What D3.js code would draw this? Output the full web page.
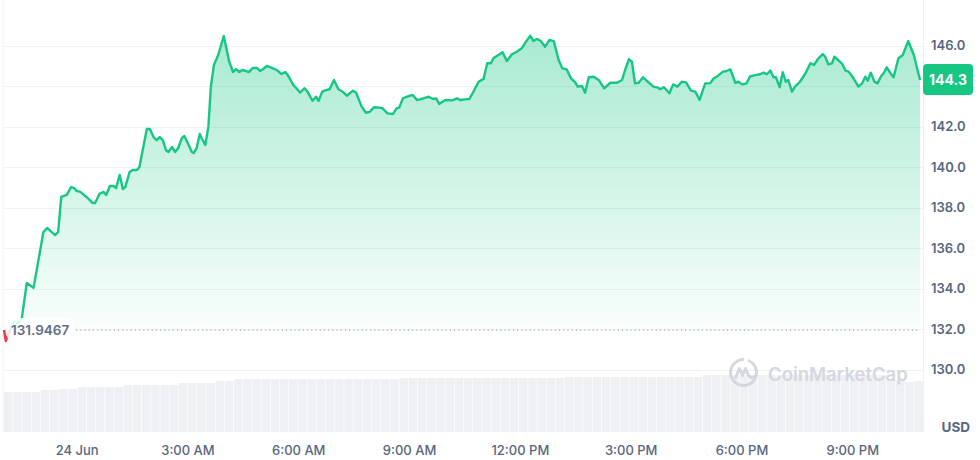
<!DOCTYPE html>
<html>
<head>
<meta charset="utf-8">
<script src="https://cdn.jsdelivr.net/npm/d3@7"></script>
<style>
  html, body { margin: 0; padding: 0; background: #ffffff; }
  svg { display: block; font-family: Inter, "Noto Sans", "DejaVu Sans", sans-serif; }
</style>
</head>
<body>
<svg id="chart" width="980" height="460"></svg>
<script>
// ---------- DATA ----------
// minutes relative to 00:00 on 24 Jun
const minutes = [
  -118,-115,-103,-95,-89,-81,-70,-54,-48,-35,-30,-25,-16,-9,-4,0,6,18,26,30,
  37,44,48,54,60,64,70,75,79,86,91,98,102,114,119,125,130,135,140,145,
  149,155,160,165,171,175,182,187,190,195,200,203,209,214,218,223,230,239,248,254,
  259,264,269,275,280,286,293,298,303,309,317,325,333,339,344,352,358,363,370,375,
  383,389,393,399,405,411,418,425,432,439,449,454,463,470,476,483,492,497,505,514,
  520,524,530,536,546,553,558,563,572,579,584,589,599,610,618,623,631,638,646,653,
  661,667,673,677,685,692,699,707,715,723,730,737,742,748,754,761,768,775,783,789,
  796,803,810,814,821,826,832,840,848,857,867,878,886,891,897,902,907,913,920,926,
  937,944,948,954,963,969,976,983,990,998,1005,1012,1021,1029,1035,1040,1050,1056,1062,1070,
  1075,1081,1088,1094,1102,1110,1116,1121,1127,1132,1136,1142,1147,1152,1156,1162,1167,1175,1184,1192,
  1198,1205,1212,1216,1221,1227,1231,1238,1243,1249,1254,1262,1270,1276,1281,1285,1290,1296,1301,1307,
  1311,1316,1322,1327,1335,1342,1351,1360,1370
];
const prices = [
  131.95,131.41,132.35,132.30,132.54,134.27,134.03,136.79,136.99,136.64,136.79,138.52,138.62,139.01,138.96,138.82,138.77,138.47,138.22,138.22,
  138.67,138.77,138.62,139.06,139.06,138.96,139.61,138.91,139.01,139.75,139.85,139.85,140.00,141.88,141.88,141.48,141.33,141.48,141.33,140.84,
  140.74,140.99,140.74,140.94,141.43,141.53,141.09,140.74,140.69,140.94,141.63,141.43,141.09,141.98,143.95,145.04,145.53,146.47,145.19,144.69,
  144.84,144.69,144.79,144.74,144.69,144.89,144.89,144.74,144.84,144.99,144.89,144.79,144.59,144.69,144.49,144.05,143.85,143.67,143.89,143.72,
  143.27,143.47,143.27,143.72,143.80,143.84,144.30,143.85,143.72,143.52,143.77,143.67,142.98,142.68,142.72,142.95,142.93,142.90,142.65,142.62,
  142.90,142.93,143.39,143.47,143.56,143.31,143.34,143.39,143.47,143.36,143.39,143.11,143.31,143.29,143.39,143.31,143.34,143.36,143.80,144.21,
  144.35,145.12,145.12,145.37,145.53,145.66,145.23,145.57,145.69,145.86,146.19,146.48,146.22,146.32,146.22,145.94,146.27,146.22,145.28,144.87,
  144.82,144.38,144.18,143.97,144.00,143.67,144.43,144.46,144.30,143.89,144.16,144.16,144.30,144.79,145.32,145.20,144.13,144.16,144.43,144.26,
  143.97,143.92,143.84,143.94,143.64,144.08,143.97,144.21,144.18,143.77,143.72,143.31,144.13,144.13,144.38,144.46,144.71,144.74,144.82,144.16,
  144.21,144.08,144.13,144.47,144.54,144.58,144.66,144.58,144.76,144.43,144.43,143.94,144.68,144.21,144.30,143.72,143.97,144.21,144.63,145.12,
  145.04,145.37,145.57,145.45,145.07,145.12,145.45,145.25,145.12,144.76,144.71,144.38,143.97,144.13,144.46,144.26,144.66,144.21,144.13,144.49,
  144.63,144.92,144.63,144.43,145.37,145.53,146.22,145.53,144.30
];
const openPrice = 131.9467;
const lastPrice = 144.3;

// volume (relative units), 15-minute bars across the window
const volumes = [
  40,40,40,40,42,42,43,43,45,45,45,45,45,47,47,47,47,47,47,49,
  49,49,49,51,51,53,53,53,53,53,53,53,53,53,53,53,53,53,53,53,
  53,53,53,54,54,54,54,54,54,54,54,54,54,54,54,54,54,54,54,54,
  54,55,55,55,55,55,55,55,55,55,55,55,55,55,55,55,57,57,57,57,
  57,57,57,57,57,57,57,57,57,57,57,57,57,57,57,57,52,52,50,51
];

const yTicks = [130, 132, 134, 136, 138, 140, 142, 144, 146];
const xTickHours = [0, 3, 6, 9, 12, 15, 18, 21];
const xTickLabels = ["24 Jun", "3:00 AM", "6:00 AM", "9:00 AM", "12:00 PM", "3:00 PM", "6:00 PM", "9:00 PM"];
const currency = "USD";
const watermark = "CoinMarketCap";

// ---------- CHART ----------
const W = 980, H = 460;
const plotLeft = 4, plotRight = 923, lineRight = 920;
const svg = d3.select("#chart");

const GREEN = "#16c784", RED = "#ea3943", GRID = "#eff2f5", TXT = "#58667e";

const x = d3.scaleLinear().domain([d3.min(minutes), d3.max(minutes)]).range([plotLeft, lineRight]);
const y = d3.scaleLinear().domain([130, 146]).range([369.5, 45.5]);
const xv = d3.scaleBand().domain(d3.range(volumes.length)).range([plotLeft, plotRight]).paddingInner(0.07);
const yv = d3.scaleLinear().domain([0, 70]).range([432, 362]);

const data = minutes.map((m, i) => ({ m, p: prices[i] }));
const baseY = y(openPrice);
const by = y(lastPrice);

const defs = svg.append("defs");
const gUp = defs.append("linearGradient").attr("id", "gUp")
  .attr("gradientUnits", "userSpaceOnUse").attr("x1", 0).attr("x2", 0)
  .attr("y1", y(146.5)).attr("y2", baseY);
gUp.append("stop").attr("offset", "0%").attr("stop-color", GREEN).attr("stop-opacity", 0.37);
gUp.append("stop").attr("offset", "100%").attr("stop-color", GREEN).attr("stop-opacity", 0.02);
const gDn = defs.append("linearGradient").attr("id", "gDn")
  .attr("gradientUnits", "userSpaceOnUse").attr("x1", 0).attr("x2", 0)
  .attr("y1", baseY).attr("y2", baseY + 20);
gDn.append("stop").attr("offset", "0%").attr("stop-color", RED).attr("stop-opacity", 0.05);
gDn.append("stop").attr("offset", "100%").attr("stop-color", RED).attr("stop-opacity", 0.2);

defs.append("clipPath").attr("id", "clipUp").append("rect")
  .attr("x", 0).attr("y", 0).attr("width", W).attr("height", baseY);
defs.append("clipPath").attr("id", "clipDn").append("rect")
  .attr("x", 0).attr("y", baseY).attr("width", W).attr("height", H - baseY);

// frame lines
svg.append("line").attr("x1", plotLeft - 1).attr("x2", plotLeft - 1).attr("y1", 0).attr("y2", 433)
  .attr("stroke", GRID).attr("stroke-width", 1);
svg.append("line").attr("x1", plotRight + 0.5).attr("x2", plotRight + 0.5).attr("y1", 0).attr("y2", 433)
  .attr("stroke", GRID).attr("stroke-width", 1);

// gridlines
svg.append("g").selectAll("line").data(yTicks).join("line")
  .attr("x1", plotLeft).attr("x2", plotRight)
  .attr("y1", d => Math.round(y(d)) + 0.5).attr("y2", d => Math.round(y(d)) + 0.5)
  .attr("stroke", GRID).attr("stroke-width", 1);

// volume bars
svg.append("g").selectAll("rect").data(volumes).join("rect")
  .attr("x", (d, i) => xv(i)).attr("width", xv.bandwidth())
  .attr("y", d => yv(d)).attr("height", d => yv(0) - yv(d))
  .attr("fill", "#eef0f4");

// watermark
const wm = svg.append("g").attr("transform", "translate(743.5,372.5)").attr("opacity", 0.85);
wm.append("path")
  .attr("d", d3.arc()({ innerRadius: 11.5, outerRadius: 14.5, startAngle: 0.35, endAngle: 2 * Math.PI + 0.05 }))
  .attr("fill", "#cfd3dc");
wm.append("path")
  .attr("d", "M-8,5 L-4,-4 L-1,3 L2,-4 L5,3 Q8,7 13,3")
  .attr("fill", "none").attr("stroke", "#cfd3dc").attr("stroke-width", 3)
  .attr("stroke-linejoin", "round").attr("stroke-linecap", "round");
svg.append("text").attr("x", 768).attr("y", 381).text(watermark)
  .attr("font-size", 18.5).attr("font-weight", 600).attr("fill", "#d3d7df");

// area + line
const area = d3.area().x(d => x(d.m)).y0(baseY).y1(d => y(d.p));
const line = d3.line().x(d => x(d.m)).y(d => y(d.p));

svg.append("path").datum(data).attr("d", area).attr("fill", "url(#gUp)").attr("clip-path", "url(#clipUp)");
svg.append("path").datum(data).attr("d", area).attr("fill", "url(#gDn)").attr("clip-path", "url(#clipDn)");

// dotted open-price line
svg.append("line").attr("x1", 76).attr("x2", lineRight)
  .attr("y1", baseY).attr("y2", baseY)
  .attr("stroke", "#a8aebd").attr("stroke-width", 1.2).attr("stroke-dasharray", "1.2,3");

svg.append("path").datum(data).attr("d", line).attr("fill", "none")
  .attr("stroke", GREEN).attr("stroke-width", 2.4).attr("stroke-linejoin", "round")
  .attr("clip-path", "url(#clipUp)");
svg.append("path").datum(data).attr("d", line).attr("fill", "none")
  .attr("stroke", RED).attr("stroke-width", 2.4).attr("stroke-linejoin", "round")
  .attr("clip-path", "url(#clipDn)");

// open price label
svg.append("rect").attr("x", 7).attr("y", baseY - 12).attr("width", 67).attr("height", 24).attr("rx", 6)
  .attr("fill", "#ffffff").attr("opacity", 0.85);
svg.append("text").attr("x", 11).attr("y", baseY + 5).text(openPrice.toFixed(4))
  .attr("font-size", 13.5).attr("font-weight", 600).attr("fill", "#616e85");

// y axis (tick labels hidden behind the last-price badge are not drawn, as in the reference)
const visibleTicks = yTicks.filter(t => Math.abs(y(t) - by) > 16);
const yAxis = svg.append("g").attr("transform", `translate(${plotRight + 8},0)`)
  .call(d3.axisRight(y).tickValues(visibleTicks).tickFormat(d3.format(".1f")).tickSize(0).tickPadding(0));
yAxis.select(".domain").remove();
yAxis.selectAll("text").attr("font-size", 13).attr("font-weight", 600).attr("fill", TXT)
  .attr("font-family", "Inter, 'Noto Sans', sans-serif");

// x axis
const xAxis = svg.append("g").attr("transform", "translate(0,446)")
  .call(d3.axisBottom(x).tickValues(xTickHours.map(h => h * 60))
    .tickFormat((d, i) => xTickLabels[i]).tickSize(0).tickPadding(0));
xAxis.select(".domain").remove();
xAxis.selectAll("text").attr("font-size", 13).attr("font-weight", 500).attr("fill", TXT)
  .attr("font-family", "Inter, 'Noto Sans', sans-serif");

// currency label
svg.append("text").attr("x", 970).attr("y", 432).attr("text-anchor", "end").text(currency)
  .attr("font-size", 13.5).attr("font-weight", 700).attr("fill", TXT);

// last price badge
svg.append("rect").attr("x", plotRight).attr("y", by - 16).attr("width", 50).attr("height", 31).attr("rx", 4)
  .attr("fill", GREEN);
svg.append("text").attr("x", plotRight + 25).attr("y", by + 5).attr("text-anchor", "middle")
  .text(lastPrice.toFixed(1)).attr("font-size", 14).attr("font-weight", 700).attr("fill", "#ffffff");
</script>
</body>
</html>
